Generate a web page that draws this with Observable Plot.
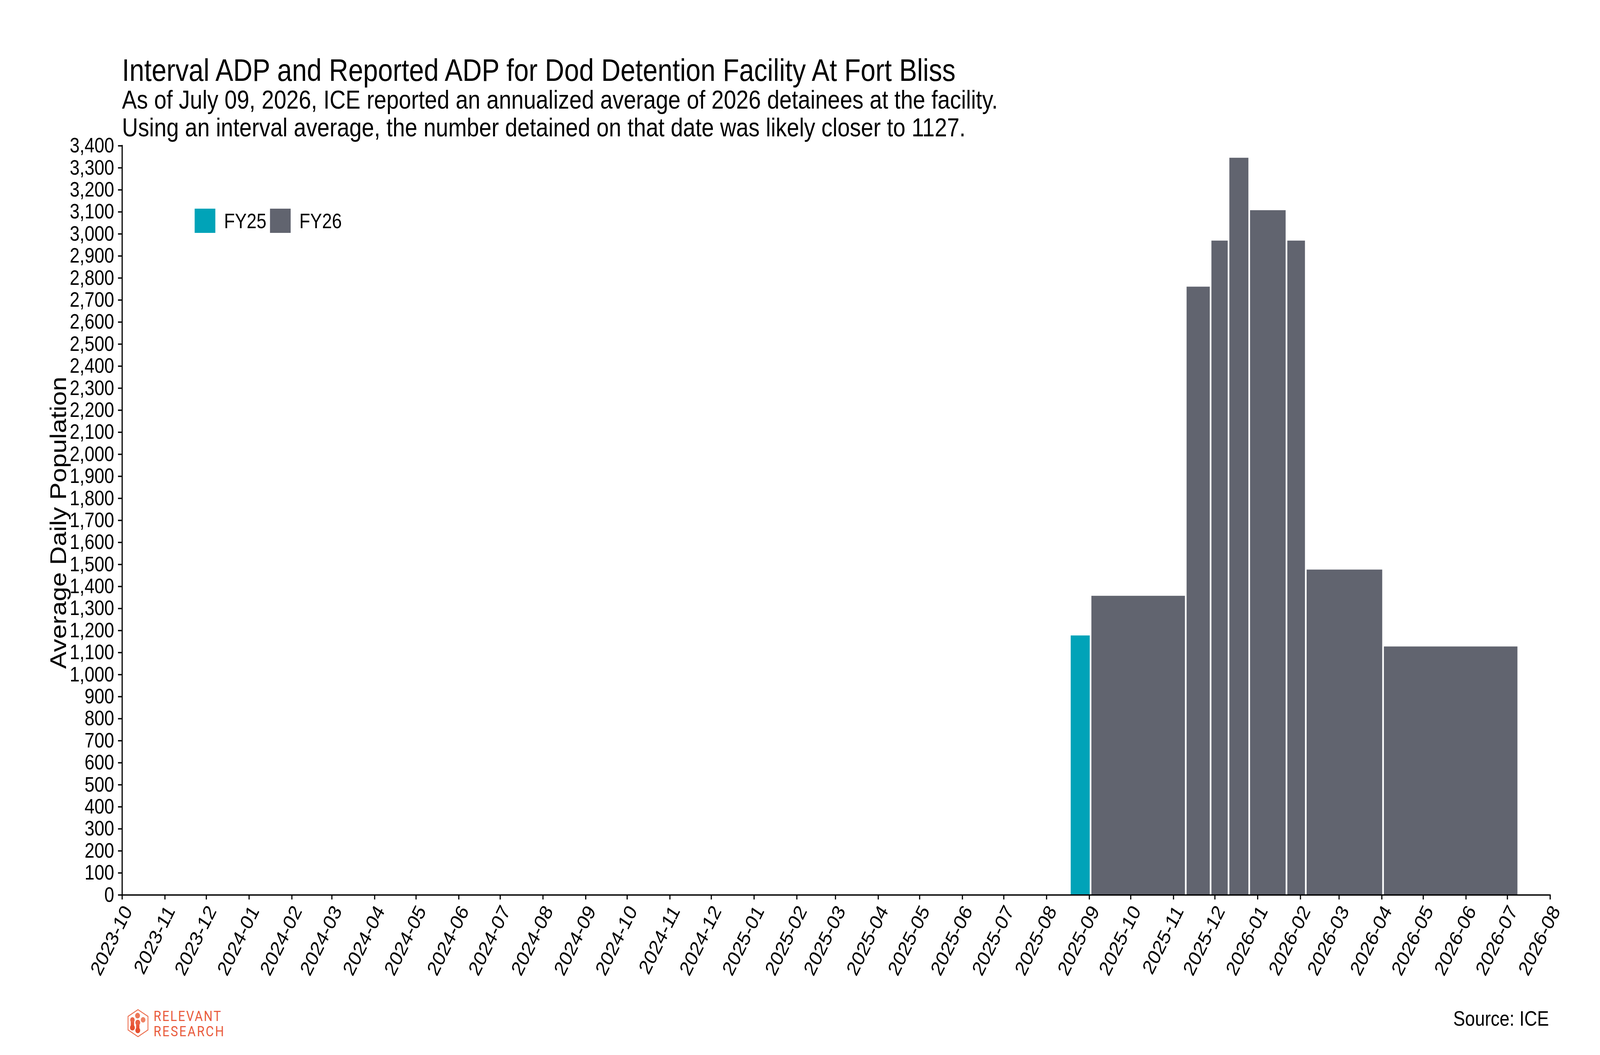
<!DOCTYPE html>
<html>
<head>
<meta charset="utf-8">
<script src="https://cdn.jsdelivr.net/npm/d3@7"></script>
<script src="https://cdn.jsdelivr.net/npm/@observablehq/plot@0.6"></script>
<style>
  html, body { margin: 0; padding: 0; background: #ffffff; overflow: hidden; }
  #page { position: absolute; left: 0; top: 0; width: 4800px; height: 2700px; background: #ffffff; overflow: hidden;
          transform-origin: 0 0;
          font-family: "Liberation Sans", Arial, Helvetica, sans-serif; color: #000; }
  #chart { position: absolute; left: 0; top: 0; }
  .title { position: absolute; left: 366px; top: 140px; font-size: 80px; line-height: 80px; white-space: nowrap; }
  .subtitle { position: absolute; left: 366px; top: 220px; font-size: 66.7px; line-height: 71px; white-space: nowrap; }
  #overlay { position: absolute; left: 0; top: 0; }
</style>
</head>
<body>
<div id="page">
  <div id="chart"></div>
  <div class="title" id="title"></div>
  <div class="subtitle" id="subtitle"></div>
  <svg id="overlay" width="4800" height="2700"></svg>
</div>
<script>
// ---------------- data ----------------
const intervalStarts = ["2025-08-18", "2025-09-02", "2025-11-10", "2025-11-28", "2025-12-11", "2025-12-26", "2026-01-22", "2026-02-05", "2026-04-02"];
const intervalEnds   = ["2025-09-02", "2025-11-10", "2025-11-28", "2025-12-11", "2025-12-26", "2026-01-22", "2026-02-05", "2026-04-02", "2026-07-09"];
const intervalADP    = [1177, 1357, 2760, 2969, 3345, 3107, 2969, 1476, 1127];
const intervalFY     = ["FY25", "FY26", "FY26", "FY26", "FY26", "FY26", "FY26", "FY26", "FY26"];

const fyLabels = ["FY25", "FY26"];
const fyColors = ["#00A3B8", "#61646F"];

const xTickLabels = ["2023-10", "2023-11", "2023-12", "2024-01", "2024-02", "2024-03", "2024-04", "2024-05", "2024-06",
  "2024-07", "2024-08", "2024-09", "2024-10", "2024-11", "2024-12", "2025-01", "2025-02", "2025-03", "2025-04",
  "2025-05", "2025-06", "2025-07", "2025-08", "2025-09", "2025-10", "2025-11", "2025-12", "2026-01", "2026-02",
  "2026-03", "2026-04", "2026-05", "2026-06", "2026-07", "2026-08"];
const yTicks = [0, 100, 200, 300, 400, 500, 600, 700, 800, 900, 1000, 1100, 1200, 1300, 1400, 1500, 1600, 1700,
  1800, 1900, 2000, 2100, 2200, 2300, 2400, 2500, 2600, 2700, 2800, 2900, 3000, 3100, 3200, 3300, 3400];

const titleText = "Interval ADP and Reported ADP for Dod Detention Facility At Fort Bliss";
const subtitleLines = [
  "As of July 09, 2026, ICE reported an annualized average of 2026 detainees at the facility.",
  "Using an interval average, the number detained on that date was likely closer to 1127."
];
const yLabel = "Average Daily Population";
const sourceText = "Source: ICE";
const logoLines = ["RELEVANT", "RESEARCH"];

// ---------------- fit the 4800x2700 design to the actual viewport ----------------
const page = document.getElementById("page");
function fitPage() {
  const w = window.innerWidth || document.documentElement.clientWidth || 4800;
  const h = window.innerHeight || document.documentElement.clientHeight || 2700;
  const sx = w / 4800, sy = h / 2700;
  page.style.transform = `scale(${sx}, ${sy})`;
  document.body.style.width = w + "px";
  document.body.style.height = h + "px";
}
fitPage();
window.addEventListener("resize", fitPage);

// ---------------- build ----------------
const parseDay = d3.utcParse("%Y-%m-%d");
const parseMonth = d3.utcParse("%Y-%m");
const intervals = intervalADP.map((v, i) => ({
  start: parseDay(intervalStarts[i]),
  end: parseDay(intervalEnds[i]),
  value: v,
  fy: intervalFY[i]
}));
const xTicks = xTickLabels.map(parseMonth);
const xDomain = [xTicks[0], xTicks[xTicks.length - 1]];
const yDomain = [yTicks[0], yTicks[yTicks.length - 1]];
const AXIS_W = 3.5;

const chart = Plot.plot({
  width: 4800,
  height: 2700,
  marginLeft: 366,
  marginRight: 150,
  marginTop: 372.7,
  marginBottom: 410,
  style: {
    fontFamily: '"Liberation Sans", Arial, Helvetica, sans-serif',
    fontSize: "53.3px",
    color: "#000",
    background: "transparent",
    overflow: "visible",
    maxWidth: "none"
  },
  x: { type: "utc", domain: xDomain },
  y: { domain: yDomain },
  color: { domain: fyLabels, range: fyColors },
  marks: [
    Plot.rectY(intervals, { x1: "start", x2: "end", y: "value", fill: "fy", insetLeft: 2.5, insetRight: 2.5 }),
    Plot.ruleX([xDomain[0]], { y1: yDomain[0], y2: yDomain[1], stroke: "#000", strokeWidth: AXIS_W, strokeLinecap: "square" }),
    Plot.ruleY([yDomain[0]], { stroke: "#000", strokeWidth: AXIS_W, strokeLinecap: "square" }),
    Plot.axisY({ ticks: yTicks, tickFormat: d3.format(","), tickSize: 12, tickPadding: 12,
      stroke: "#000", strokeWidth: AXIS_W, fontSize: 53.3, label: null }),
    Plot.axisX({ ticks: xTicks, tickSize: 12, stroke: "#000", strokeWidth: AXIS_W, fill: "none", label: null }),
    Plot.axisX({ ticks: xTicks, tickFormat: d3.utcFormat("%Y-%m"), tickSize: 0, tickPadding: 32,
      tickRotate: -60, textAnchor: "end", lineAnchor: "middle", dx: 17, fontSize: 53.3, label: null }),
    Plot.text([yLabel], { text: d => d, frameAnchor: "left", rotate: -90, dx: -168, dy: 6,
      lineAnchor: "bottom", textAnchor: "middle", fontSize: 66.7, fill: "#000" })
  ]
});
document.getElementById("chart").appendChild(chart);

document.getElementById("title").textContent = titleText;
const sub = document.getElementById("subtitle");
subtitleLines.forEach(line => {
  const div = document.createElement("div");
  div.textContent = line;
  sub.appendChild(div);
});

// legend, source, logo
const ov = d3.select("#overlay");
const fontFam = '"Liberation Sans", Arial, Helvetica, sans-serif';
const legend = ov.append("g");
fyLabels.forEach((lab, i) => {
  const x0 = 584 + i * 226;
  legend.append("rect").attr("x", x0).attr("y", 534).attr("width", 62).attr("height", 62).attr("fill", fyColors[i]);
  legend.append("text").attr("x", x0 + 88).attr("y", 584).attr("font-family", fontFam)
    .attr("font-size", 53.3).attr("fill", "#000").text(lab);
});

ov.append("text").attr("x", 4647).attr("y", 2625).attr("text-anchor", "end")
  .attr("font-family", fontFam).attr("font-size", 53.3).attr("fill", "#000").text(sourceText);

const logo = ov.append("g");
const orange = "#E95B3C";
const cx = 414, cy = 2618.5, R = 34.5;
const hexPts = d3.range(6).map(k => {
  const a = Math.PI / 180 * (60 * k - 90);
  return [cx + R * Math.cos(a), cy + R * Math.sin(a)];
});
logo.append("polygon").attr("points", hexPts.map(p => p.join(",")).join(" "))
  .attr("fill", "none").attr("stroke", "#EC6E4E").attr("stroke-width", 2.5);
logo.append("circle").attr("cx", 412.7).attr("cy", 2599.3).attr("r", 7.3).attr("fill", "#EC7858");
logo.append("circle").attr("cx", 429.3).attr("cy", 2610).attr("r", 7).attr("fill", "#EE8365");
logo.append("line").attr("x1", 397.3).attr("y1", 2610).attr("x2", 397.3).attr("y2", 2630)
  .attr("stroke", "#E8573A").attr("stroke-width", 10).attr("stroke-linecap", "round");
logo.append("circle").attr("cx", 397.3).attr("cy", 2610).attr("r", 6.7).attr("fill", "#EA6446");
logo.append("circle").attr("cx", 397.3).attr("cy", 2630).attr("r", 7.3).attr("fill", "#E6502F");
logo.append("line").attr("x1", 413.3).attr("y1", 2617).attr("x2", 413.3).attr("y2", 2637)
  .attr("stroke", "#E8573A").attr("stroke-width", 10).attr("stroke-linecap", "round");
logo.append("circle").attr("cx", 413.3).attr("cy", 2617).attr("r", 7.3).attr("fill", "#EA6244");
logo.append("circle").attr("cx", 413.3).attr("cy", 2637).attr("r", 7.3).attr("fill", "#E6502F");
logo.append("text").attr("x", 460.7).attr("y", 2612.7).attr("font-family", "Roboto, " + fontFam)
  .attr("font-weight", 400).attr("font-size", 37).attr("fill", orange)
  .attr("textLength", 202).attr("lengthAdjust", "spacing").text(logoLines[0]);
logo.append("text").attr("x", 460.7).attr("y", 2651.7).attr("font-family", "Roboto, " + fontFam)
  .attr("font-weight", 400).attr("font-size", 37).attr("fill", orange)
  .attr("textLength", 211).attr("lengthAdjust", "spacing").text(logoLines[1]);
</script>
</body>
</html>
